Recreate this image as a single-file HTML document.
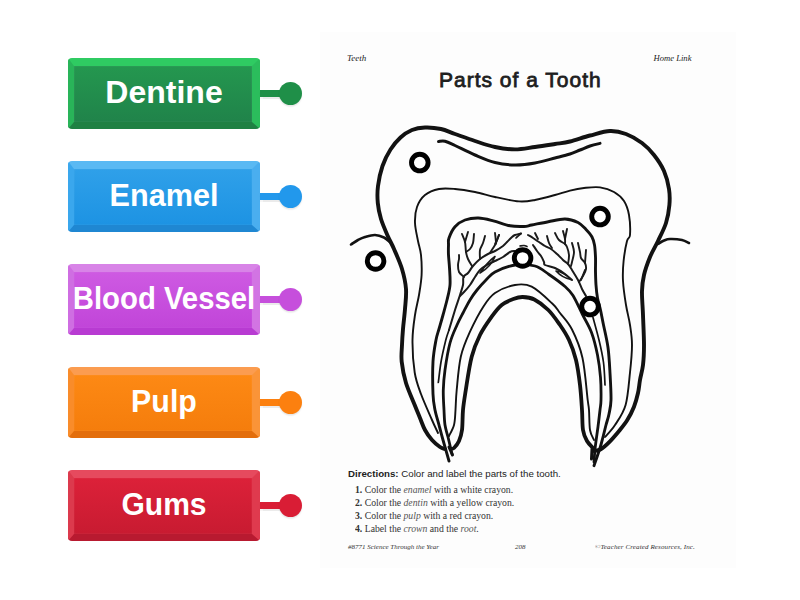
<!DOCTYPE html>
<html><head><meta charset="utf-8">
<style>
html,body{margin:0;padding:0;background:#fff;width:800px;height:600px;overflow:hidden;position:relative;font-family:"Liberation Sans",sans-serif;}
.btn{position:absolute;left:68px;width:192px;height:71px;box-sizing:border-box;border-radius:4px;box-shadow:inset 0 0 2px rgba(255,255,255,0.12);
 border-style:solid;border-width:8px 8px 7px 6px;}
.btn span{position:absolute;left:-6px;right:-8px;top:8.6px;text-align:center;color:#fff;font-weight:bold;font-size:30.5px;line-height:34px;white-space:nowrap;transform-origin:50% 50%;}
.con{position:absolute;left:260px;width:24px;height:7px;box-shadow:0 1.5px 1px rgba(0,0,0,0.08);}
.dot{position:absolute;left:278.7px;width:23px;height:23px;border-radius:50%;box-shadow:0 1.5px 1.5px rgba(0,0,0,0.1);}
#ws{position:absolute;left:320px;top:32px;width:416px;height:536px;background:#fdfdfd;}
.t{position:absolute;white-space:nowrap;line-height:1;transform-origin:0 0;}
.li{font-family:'Liberation Serif',serif;font-size:10px;color:#333;transform:scaleX(0.97);font-weight:bold;}
.li span{font-weight:normal;}
.li i{color:#555;}
.ft{font-family:'Liberation Serif',serif;font-style:italic;font-size:7px;color:#333;}
</style></head><body>
<!-- buttons -->
<div class="btn" style="top:58px;border-color:#2fcb62 #2bbd5c #1f8043 #29b459;background:linear-gradient(#24974f,#20834a);"><span style="transform:scaleX(1.05)">Dentine</span></div>
<div class="con" style="top:90.3px;background:#1f8f48;"></div>
<div class="dot" style="top:82.4px;background:#1f8f48;"></div>

<div class="btn" style="top:161px;border-color:#5ab9f3 #4aaeef #1f87d2 #3aa7ed;background:linear-gradient(#2fa0e9,#1d93e3);"><span style="transform:scaleX(1.004)">Enamel</span></div>
<div class="con" style="top:193.3px;background:#2298ec;"></div>
<div class="dot" style="top:185.4px;background:#2298ec;"></div>

<div class="btn" style="top:264px;border-color:#d884e7 #d274e3 #b83bd2 #cf6ee2;background:linear-gradient(#ce5ae2,#c145d9);"><span style="transform:scaleX(0.961)">Blood Vessel</span></div>
<div class="con" style="top:296.3px;background:#c64fdc;"></div>
<div class="dot" style="top:288.4px;background:#c64fdc;"></div>

<div class="btn" style="top:367px;border-color:#fb9c50 #fa9438 #e36e0c #f98c2a;background:linear-gradient(#fd8914,#f57d0c);"><span style="transform:scaleX(0.995)">Pulp</span></div>
<div class="con" style="top:399.3px;background:#fc800f;"></div>
<div class="dot" style="top:391.4px;background:#fc800f;"></div>

<div class="btn" style="top:470px;border-color:#e64a5e #df3a4e #b81a30 #dc3a4d;background:linear-gradient(#dc2139,#c81b31);"><span style="transform:scaleX(0.985)">Gums</span></div>
<div class="con" style="top:502.3px;background:#d91d35;"></div>
<div class="dot" style="top:494.4px;background:#d91d35;"></div>

<div id="ws"></div>
<div id="txt">
<div class="t" id="t_teeth" style="left:347px;top:54px;font-family:'Liberation Serif',serif;font-style:italic;font-size:9px;color:#1a1a1a;">Teeth</div>
<div class="t" id="t_home" style="left:653.5px;top:54px;font-family:'Liberation Serif',serif;font-style:italic;font-size:8.6px;color:#1a1a1a;">Home Link</div>
<div class="t" id="t_title" style="left:439px;top:69px;font-weight:normal;font-size:21px;color:#1e1e1e;-webkit-text-stroke:0.8px #1e1e1e;letter-spacing:1px;">Parts of a Tooth</div>
<div class="t" id="t_dir" style="left:348px;top:469.4px;font-size:9.7px;color:#222;"><b>Directions:</b> Color and label the parts of the tooth.</div>
<div class="t li" id="t_l1" style="left:355px;top:485px;">1. <span>Color the <i>enamel</i> with a white crayon.</span></div>
<div class="t li" id="t_l2" style="left:355px;top:498px;">2. <span>Color the <i>dentin</i> with a yellow crayon.</span></div>
<div class="t li" id="t_l3" style="left:355px;top:511px;">3. <span>Color the <i>pulp</i> with a red crayon.</span></div>
<div class="t li" id="t_l4" style="left:355px;top:524px;">4. <span>Label the <i>crown</i> and the <i>root</i>.</span></div>
<div class="t ft" id="t_f1" style="left:348px;top:543.5px;">#8771 Science Through the Year</div>
<div class="t ft" id="t_f2" style="left:515px;top:543.5px;">208</div>
<div class="t ft" id="t_f3" style="left:595px;top:543.5px;letter-spacing:0.12px;">&copy;Teacher Created Resources, Inc.</div>
</div>
<!--TOOTH--><svg width="800" height="600" style="position:absolute;left:0;top:0"><g fill="none" stroke-linecap="round" stroke-linejoin="round"><path d="M445.0 449.0 C444.2 448.7 442.2 448.5 440.0 447.0 C437.8 445.5 434.5 442.8 432.0 440.0 C429.5 437.2 427.0 433.7 425.0 430.0 C423.0 426.3 421.7 422.2 420.0 418.0 C418.3 413.8 417.0 410.8 414.7 405.0 C412.4 399.2 408.2 390.2 406.0 383.0 C403.8 375.8 402.4 368.0 401.7 361.7 C401.0 355.4 401.8 350.4 402.0 345.0 C402.2 339.6 402.5 335.0 403.0 329.0 C403.5 323.0 404.5 315.7 405.0 309.0 C405.5 302.3 406.5 295.7 406.0 289.0 C405.5 282.3 404.0 275.7 402.0 269.0 C400.0 262.3 396.3 254.4 394.0 249.0 C391.7 243.6 390.2 241.5 388.0 236.5 C385.8 231.5 382.7 224.6 381.0 219.0 C379.3 213.4 378.3 208.5 377.8 203.0 C377.3 197.5 377.2 192.2 378.0 186.0 C378.8 179.8 380.4 172.1 382.5 166.0 C384.6 159.9 387.5 154.2 390.5 149.5 C393.5 144.8 396.9 140.8 400.5 137.5 C404.1 134.2 407.9 131.7 412.0 130.0 C416.1 128.3 420.2 127.7 425.0 127.5 C429.8 127.3 436.0 127.9 441.0 129.0 C446.0 130.1 449.3 132.0 455.0 134.0 C460.7 136.0 468.3 138.8 475.0 141.0 C481.7 143.2 488.3 145.6 495.0 147.0 C501.7 148.4 508.3 149.4 515.0 149.4 C521.7 149.4 528.3 147.9 535.0 147.0 C541.7 146.1 549.2 144.9 555.0 144.0 C560.8 143.1 564.2 142.9 570.0 141.5 C575.8 140.1 583.3 137.2 590.0 135.5 C596.7 133.8 604.0 131.2 610.0 131.0 C616.0 130.8 620.7 132.0 626.0 134.0 C631.3 136.0 637.3 139.5 642.0 143.0 C646.7 146.5 650.3 150.3 654.0 155.0 C657.7 159.7 661.5 165.3 664.0 171.0 C666.5 176.7 668.1 183.3 669.0 189.0 C669.9 194.7 669.9 199.3 669.4 205.0 C668.9 210.7 667.9 217.0 666.0 223.0 C664.1 229.0 660.7 235.3 658.0 241.0 C655.3 246.7 652.3 251.3 650.0 257.0 C647.7 262.7 645.3 269.3 644.0 275.0 C642.7 280.7 642.2 284.3 642.0 291.0 C641.8 297.7 642.7 306.0 643.0 315.0 C643.3 324.0 644.0 336.7 644.0 345.0 C644.0 353.3 643.7 359.2 643.0 365.0 C642.3 370.8 640.8 375.3 640.0 380.0 C639.2 384.7 639.0 388.6 638.0 393.0 C637.0 397.4 635.8 402.2 634.0 406.7 C632.2 411.2 629.8 416.0 627.3 420.0 C624.8 424.0 622.2 427.1 619.3 430.7 C616.4 434.2 613.1 438.2 610.0 441.3 C606.9 444.4 603.4 447.7 600.7 449.3 C598.0 450.9 595.1 450.7 594.0 451.0" stroke-width="3.9" stroke="#121212"/><path d="M451.0 449.0 C451.5 448.8 452.7 449.3 454.0 448.0 C455.3 446.7 457.7 444.0 459.0 441.0 C460.3 438.0 461.3 435.2 462.0 430.0 C462.7 424.8 462.4 416.7 463.0 410.0 C463.6 403.3 464.4 398.9 465.8 390.0 C467.2 381.1 469.3 365.9 471.7 356.7 C474.1 347.5 476.7 341.7 480.0 335.0 C483.3 328.3 488.1 321.7 491.7 316.7 C495.3 311.7 498.1 307.9 501.7 305.0 C505.3 302.1 509.8 300.3 513.3 299.0 C516.8 297.7 519.2 296.9 522.7 297.0 C526.2 297.1 530.0 297.3 534.3 299.5 C538.6 301.7 544.0 305.8 548.3 310.0 C552.6 314.2 556.5 320.0 560.0 325.0 C563.5 330.0 566.3 334.2 569.0 340.0 C571.7 345.8 574.2 352.5 576.0 360.0 C577.8 367.5 579.0 376.7 580.0 385.0 C581.0 393.3 581.5 402.5 582.0 410.0 C582.5 417.5 582.2 424.8 583.0 430.0 C583.8 435.2 585.3 438.0 587.0 441.0 C588.7 444.0 592.0 446.8 593.0 448.0" stroke-width="3.8" stroke="#121212"/><path d="M449.0 447.0 C449.6 448.3 451.9 453.7 452.5 455.0" stroke-width="3" stroke="#121212"/><path d="M592.0 449.0 C591.9 450.7 591.6 457.3 591.5 459.0" stroke-width="3" stroke="#121212"/><path d="M351.0 244.5 C352.2 243.8 355.7 241.2 358.0 240.0 C360.3 238.8 362.2 237.8 365.0 237.0 C367.8 236.2 371.8 234.9 375.0 235.0 C378.2 235.1 381.3 236.2 384.0 237.5 C386.7 238.8 389.8 242.1 391.0 243.0" stroke-width="2.6" stroke="#121212"/><path d="M658.0 244.0 C659.0 243.4 662.0 241.3 664.0 240.5 C666.0 239.7 667.0 239.1 670.0 239.0 C673.0 238.9 678.8 239.3 682.0 240.0 C685.2 240.7 687.8 242.5 689.0 243.0" stroke-width="2.6" stroke="#121212"/><path d="M438.5 141.5 C439.6 141.5 442.2 140.6 445.0 141.3 C447.8 142.0 450.0 143.2 455.0 145.5 C460.0 147.8 468.3 152.2 475.0 155.0 C481.7 157.8 488.3 160.8 495.0 162.5 C501.7 164.2 508.3 164.9 515.0 165.0 C521.7 165.1 528.3 164.2 535.0 163.0 C541.7 161.8 549.2 159.5 555.0 158.0 C560.8 156.5 565.8 155.3 570.0 154.0 C574.2 152.7 576.7 151.3 580.0 150.0 C583.3 148.7 586.7 147.1 590.0 146.0 C593.3 144.9 598.3 143.8 600.0 143.4" stroke-width="3.0" stroke="#121212"/><path d="M438.0 433.0 C437.0 430.8 434.8 426.5 432.0 420.0 C429.2 413.5 423.9 401.9 421.0 394.0 C418.1 386.1 416.1 381.5 414.7 372.5 C413.3 363.5 412.4 349.6 412.5 340.0 C412.6 330.4 413.9 322.5 415.0 315.0 C416.1 307.5 417.9 301.7 419.0 295.0 C420.1 288.3 421.3 281.7 421.6 275.0 C421.9 268.3 421.6 260.7 421.0 255.0 C420.4 249.3 419.0 246.3 418.0 241.0 C417.0 235.7 415.2 228.7 415.0 223.0 C414.8 217.3 415.3 211.7 417.0 207.0 C418.7 202.3 421.3 198.0 425.0 195.0 C428.7 192.0 434.0 190.0 439.0 189.0 C444.0 188.0 449.0 188.5 455.0 189.0 C461.0 189.5 468.3 190.7 475.0 192.0 C481.7 193.3 487.7 195.4 495.0 197.0 C502.3 198.6 512.3 200.9 519.0 201.4 C525.7 201.9 529.0 201.1 535.0 200.0 C541.0 198.9 549.2 196.6 555.0 195.0 C560.8 193.4 565.2 191.8 570.0 190.6 C574.8 189.4 579.0 188.5 584.0 188.0 C589.0 187.5 595.0 186.7 600.0 187.4 C605.0 188.1 610.0 189.7 614.0 192.0 C618.0 194.3 621.5 197.2 624.0 201.0 C626.5 204.8 628.0 209.3 629.0 215.0 C630.0 220.7 630.3 230.7 630.0 235.0 C629.7 239.3 628.1 236.7 627.0 241.0 C625.9 245.3 624.3 254.3 623.6 261.0 C622.9 267.7 622.6 273.7 623.0 281.0 C623.4 288.3 624.8 297.7 626.0 305.0 C627.2 312.3 629.0 318.3 630.0 325.0 C631.0 331.7 632.0 337.1 632.0 345.0 C632.0 352.9 631.1 362.5 630.0 372.5 C628.9 382.5 628.1 396.2 625.6 405.0 C623.1 413.8 618.4 419.7 615.0 425.0 C611.6 430.3 606.7 435.0 605.0 437.0" stroke-width="1.9" stroke="#121212"/><path d="M449.0 461.0 C448.0 457.5 444.7 446.0 443.0 440.0 C441.3 434.0 440.3 430.0 439.0 425.0 C437.7 420.0 436.0 415.2 435.0 410.0 C434.0 404.8 433.3 402.1 433.0 394.0 C432.7 385.9 432.5 370.7 433.0 361.7 C433.5 352.7 435.0 345.4 436.0 340.0 C437.0 334.6 437.8 333.2 439.0 329.0 C440.2 324.8 441.7 319.8 443.0 315.0 C444.3 310.2 445.8 305.0 447.0 300.0 C448.2 295.0 449.6 290.3 450.0 285.0 C450.4 279.7 449.8 273.0 449.5 268.0 C449.2 263.0 448.7 258.8 448.5 255.0 C448.3 251.2 448.4 247.8 448.5 245.0 C448.6 242.2 447.9 241.1 449.0 238.0 C450.1 234.9 452.3 229.7 455.0 226.7 C457.7 223.7 461.1 221.4 465.0 220.0 C468.9 218.6 473.6 217.9 478.3 218.0 C483.0 218.1 488.0 219.5 493.3 220.8 C498.6 222.1 504.9 224.9 510.0 225.8 C515.1 226.8 520.4 226.6 524.0 226.5 C527.6 226.4 527.7 225.8 531.7 225.0 C535.8 224.2 542.8 222.7 548.3 221.7 C553.8 220.7 560.0 218.9 565.0 219.0 C570.0 219.1 574.5 220.8 578.0 222.5 C581.5 224.2 583.7 227.1 586.0 229.5 C588.3 231.9 590.6 234.4 592.0 237.0 C593.4 239.6 593.9 241.7 594.5 245.0 C595.1 248.3 595.3 252.5 595.5 257.0 C595.7 261.5 595.4 267.3 595.5 272.0 C595.6 276.7 595.7 280.7 596.0 285.0 C596.3 289.3 596.8 293.8 597.5 298.0 C598.2 302.2 599.5 305.5 600.5 310.0 C601.5 314.5 602.2 318.8 603.5 325.0 C604.8 331.2 606.9 339.5 608.0 347.5 C609.1 355.5 609.5 364.2 610.0 373.0 C610.5 381.8 611.2 393.2 611.0 400.0 C610.8 406.8 609.8 409.8 609.0 414.0 C608.2 418.2 607.0 421.2 606.0 425.0 C605.0 428.8 604.0 433.2 603.0 437.0 C602.0 440.8 601.5 443.2 600.0 448.0 C598.5 452.8 595.0 462.8 594.0 465.7" stroke-width="2.9" stroke="#121212"/><path d="M452.0 454.0 C451.3 451.2 449.2 441.8 448.0 437.0 C446.8 432.2 445.7 429.5 445.0 425.0 C444.3 420.5 444.3 415.8 444.0 410.0 C443.7 404.2 443.1 396.7 443.3 390.0 C443.5 383.3 443.9 377.8 445.0 370.0 C446.1 362.2 448.0 350.5 450.0 343.0 C452.0 335.5 454.8 330.0 457.0 325.0 C459.2 320.0 460.8 317.2 463.0 313.0 C465.2 308.8 467.7 303.8 470.0 300.0 C472.3 296.2 474.3 293.3 477.0 290.0 C479.7 286.7 483.0 283.0 486.0 280.0 C489.0 277.0 490.2 274.5 495.0 272.0 C499.8 269.5 508.3 266.0 515.0 265.0 C521.7 264.0 529.3 264.4 535.0 266.0 C540.7 267.6 544.0 271.1 549.0 274.5 C554.0 277.9 561.0 283.0 565.0 286.5 C569.0 290.0 570.1 290.8 573.0 295.5 C575.9 300.2 579.4 308.3 582.5 314.5 C585.6 320.7 589.0 325.8 591.5 332.5 C594.0 339.2 596.0 347.5 597.5 355.0 C599.0 362.5 599.9 370.0 600.5 377.5 C601.1 385.0 601.1 394.6 601.0 400.0 C600.9 405.4 600.5 405.6 600.0 410.0 C599.5 414.4 598.8 420.6 598.0 426.7 C597.2 432.8 596.0 440.8 595.3 446.7 C594.6 452.6 594.2 459.4 594.0 462.0" stroke-width="2.8" stroke="#121212"/><path d="M449.0 436.0 C449.8 434.2 452.9 429.3 454.0 425.0 C455.1 420.7 455.1 415.8 455.5 410.0 C455.9 404.2 455.8 398.9 456.7 390.0 C457.6 381.1 458.6 366.4 460.8 356.7 C463.0 347.0 466.2 340.0 470.0 331.7 C473.8 323.4 479.1 313.1 483.3 306.7 C487.5 300.2 489.7 296.6 495.0 293.0 C500.3 289.4 508.9 286.1 515.0 285.0 C521.1 283.9 525.5 283.6 531.7 286.7 C537.9 289.8 547.3 298.9 552.0 303.3 C556.7 307.7 556.7 308.6 560.0 313.0 C563.3 317.4 568.2 322.0 572.0 329.5 C575.8 337.0 579.9 346.2 582.5 358.0 C585.1 369.8 586.6 391.3 587.7 400.0 C588.8 408.7 588.6 405.0 589.0 410.0 C589.4 415.0 589.2 425.0 590.0 430.0 C590.8 435.0 593.3 438.3 594.0 440.0" stroke-width="1.9" stroke="#121212"/><path d="M449.0 330.0 C448.5 331.7 447.1 334.7 445.8 340.0 C444.5 345.3 442.2 354.9 441.0 362.0 C439.8 369.1 438.8 379.1 438.3 382.5" stroke-width="1.7" stroke="#121212"/><path d="M593.0 317.5 C594.0 321.2 597.2 332.5 599.0 340.0 C600.8 347.5 602.5 355.0 603.5 362.5 C604.5 370.0 604.8 381.2 605.0 385.0" stroke-width="1.7" stroke="#121212"/><path d="M449.0 330.0 C450.0 326.7 453.2 315.8 455.0 310.0 C456.8 304.2 458.7 299.2 460.0 295.0 C461.3 290.8 462.4 288.0 463.0 285.0 C463.6 282.0 462.7 279.0 463.5 277.0 C464.3 275.0 466.4 274.8 468.0 273.0 C469.6 271.2 471.0 268.3 473.0 266.0 C475.0 263.7 477.5 261.0 480.0 259.0 C482.5 257.0 485.5 255.3 488.0 254.0 C490.5 252.7 492.5 252.3 495.0 251.0 C497.5 249.7 501.0 247.5 503.0 246.0 C505.0 244.5 505.5 243.5 507.0 242.0 C508.5 240.5 510.7 238.2 512.0 237.0 C513.3 235.8 513.5 235.6 515.0 235.0 C516.5 234.4 520.0 233.8 521.0 233.5" stroke-width="2.0" stroke="#1a1a1a"/><path d="M460.0 296.0 C460.7 295.3 462.3 293.8 464.0 292.0 C465.7 290.2 468.2 287.5 470.0 285.0 C471.8 282.5 473.3 279.5 475.0 277.0 C476.7 274.5 478.0 272.0 480.0 270.0 C482.0 268.0 484.2 266.7 487.0 265.0 C489.8 263.3 494.3 261.3 497.0 260.0 C499.7 258.7 500.8 258.3 503.0 257.0 C505.2 255.7 508.0 253.0 510.0 252.0 C512.0 251.0 514.2 251.2 515.0 251.0" stroke-width="2.0" stroke="#1a1a1a"/><path d="M480 273 C484.5 266.5 489.5 260.5 495 256.5 C493 261.5 488 268.5 480 273 Z" stroke-width="1.6" stroke="#1a1a1a"/><path d="M464.0 277.0 C463.2 276.2 460.0 274.0 459.0 272.0 C458.0 270.0 458.0 267.2 458.0 265.0 C458.0 262.8 458.8 260.7 459.0 259.0 C459.2 257.3 459.0 255.7 459.0 255.0" stroke-width="1.9" stroke="#1a1a1a"/><path d="M472.0 266.0 C471.3 264.8 469.0 261.3 468.0 259.0 C467.0 256.7 466.5 254.8 466.0 252.0 C465.5 249.2 465.7 245.0 465.0 242.0 C464.3 239.0 462.5 235.3 462.0 234.0" stroke-width="1.9" stroke="#1a1a1a"/><path d="M465.0 242.0 C465.5 240.3 467.5 233.7 468.0 232.0" stroke-width="1.9" stroke="#1a1a1a"/><path d="M466.0 252.0 C466.7 251.5 468.8 250.5 470.0 249.0 C471.2 247.5 472.3 245.5 473.0 243.0 C473.7 240.5 473.8 235.5 474.0 234.0" stroke-width="1.9" stroke="#1a1a1a"/><path d="M480.0 259.0 C480.0 257.5 479.5 252.7 480.0 250.0 C480.5 247.3 482.2 245.3 483.0 243.0 C483.8 240.7 484.7 237.2 485.0 236.0" stroke-width="1.9" stroke="#1a1a1a"/><path d="M490.0 253.0 C490.8 251.7 494.0 246.7 495.0 245.0 C496.0 243.3 496.0 245.0 496.0 243.0 C496.0 241.0 495.2 234.7 495.0 233.0" stroke-width="1.9" stroke="#1a1a1a"/><path d="M496.0 243.0 C496.5 241.7 498.5 236.3 499.0 235.0" stroke-width="1.9" stroke="#1a1a1a"/><path d="M499.0 235.0 C498.7 235.8 497.7 238.5 497.0 240.0 C496.3 241.5 495.3 243.3 495.0 244.0" stroke-width="1.9" stroke="#1a1a1a"/><path d="M516.0 238.0 C516.8 237.2 520.2 234.2 521.0 233.5" stroke-width="1.7" stroke="#1a1a1a"/><path d="M520.0 246.0 C520.7 245.9 522.8 245.4 524.0 245.5 C525.2 245.6 526.5 246.3 527.0 246.5" stroke-width="1.7" stroke="#1a1a1a"/><path d="M528.0 235.0 C528.8 235.5 531.2 236.8 533.0 238.0 C534.8 239.2 537.0 240.7 539.0 242.0 C541.0 243.3 543.0 244.8 545.0 246.0 C547.0 247.2 549.0 247.7 551.0 249.0 C553.0 250.3 555.0 252.2 557.0 254.0 C559.0 255.8 561.2 258.3 563.0 260.0 C564.8 261.7 566.5 262.3 568.0 264.0 C569.5 265.7 570.3 267.3 572.0 270.0 C573.7 272.7 576.3 276.8 578.0 280.0 C579.7 283.2 580.7 286.3 582.0 289.0 C583.3 291.7 585.3 294.8 586.0 296.0" stroke-width="2.0" stroke="#1a1a1a"/><path d="M535.0 233.0 C535.5 234.0 537.5 238.0 538.0 239.0" stroke-width="1.9" stroke="#1a1a1a"/><path d="M547.0 236.0 C547.3 237.2 548.2 241.0 549.0 243.0 C549.8 245.0 551.5 247.2 552.0 248.0" stroke-width="1.9" stroke="#1a1a1a"/><path d="M533.0 245.0 C533.7 246.0 535.7 249.2 537.0 251.0 C538.3 252.8 539.8 254.2 541.0 256.0 C542.2 257.8 543.3 260.5 544.0 262.0 C544.7 263.5 543.2 264.0 545.0 265.0 C546.8 266.0 551.7 266.5 555.0 268.0 C558.3 269.5 562.2 272.0 565.0 274.0 C567.8 276.0 570.8 279.0 572.0 280.0" stroke-width="2.0" stroke="#1a1a1a"/><path d="M556 271 C561 271.5 566.5 275 571 279.5 C566 278.5 560.5 276 556 271 Z" stroke-width="1.6" stroke="#1a1a1a"/><path d="M568.0 264.0 C568.2 262.5 569.2 257.8 569.0 255.0 C568.8 252.2 567.7 248.8 567.0 247.0 C566.3 245.2 566.3 245.2 565.0 244.0 C563.7 242.8 560.7 241.8 559.0 240.0 C557.3 238.2 555.7 234.2 555.0 233.0" stroke-width="1.9" stroke="#1a1a1a"/><path d="M565.0 244.0 C565.0 243.2 565.3 241.2 565.0 239.0 C564.7 236.8 563.3 232.3 563.0 231.0" stroke-width="1.9" stroke="#1a1a1a"/><path d="M565.0 239.0 C565.3 237.3 566.7 230.7 567.0 229.0" stroke-width="1.9" stroke="#1a1a1a"/><path d="M572.0 243.0 C572.3 244.5 574.0 248.8 574.0 252.0 C574.0 255.2 572.5 259.7 572.0 262.0 C571.5 264.3 571.2 265.3 571.0 266.0" stroke-width="1.9" stroke="#1a1a1a"/><path d="M578.0 243.0 C578.3 244.5 579.5 249.5 580.0 252.0 C580.5 254.5 580.2 256.2 581.0 258.0 C581.8 259.8 584.2 261.2 585.0 263.0 C585.8 264.8 586.3 266.8 586.0 269.0 C585.7 271.2 584.2 273.8 583.0 276.0 C581.8 278.2 579.7 281.0 579.0 282.0" stroke-width="1.9" stroke="#1a1a1a"/><path d="M585.0 263.0 C585.2 260.8 585.8 252.2 586.0 250.0" stroke-width="1.9" stroke="#1a1a1a"/><path d="M585.0 270.0 C584.3 271.7 581.7 278.3 581.0 280.0" stroke-width="1.9" stroke="#1a1a1a"/></g><circle cx="419.8" cy="162.6" r="8.3" fill="#fff" stroke="#000" stroke-width="4.9"/><circle cx="600.0" cy="216.6" r="8.3" fill="#fff" stroke="#000" stroke-width="4.9"/><circle cx="375.6" cy="261.0" r="8.3" fill="#fff" stroke="#000" stroke-width="4.9"/><circle cx="522.6" cy="258.0" r="8.3" fill="#fff" stroke="#000" stroke-width="4.9"/><circle cx="590.0" cy="306.6" r="8.3" fill="#fff" stroke="#000" stroke-width="4.9"/></svg><!--/TOOTH-->
</body></html>
